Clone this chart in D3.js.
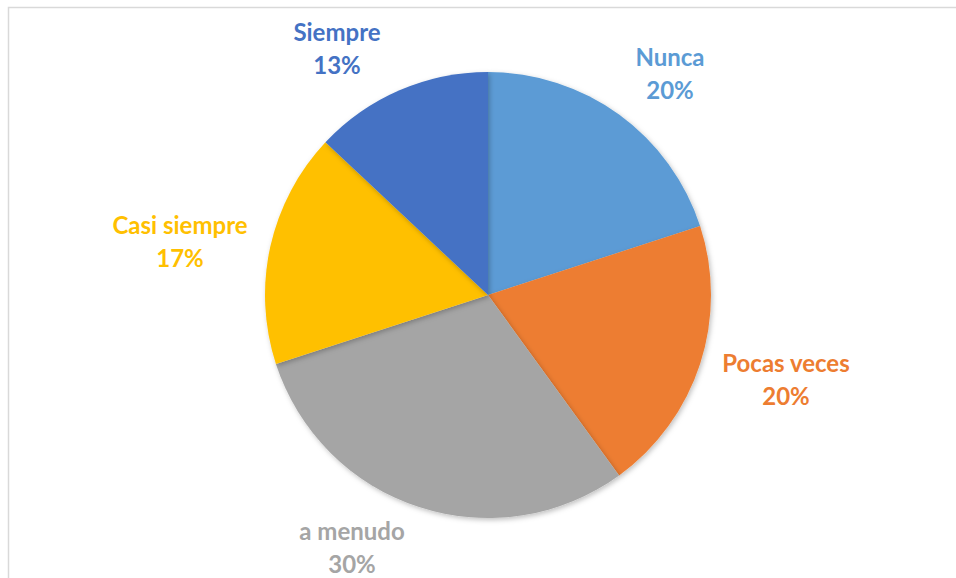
<!DOCTYPE html>
<html>
<head>
<meta charset="utf-8">
<script src="https://cdn.jsdelivr.net/npm/d3@7"></script>
<style>
  body { margin: 0; background: #fff; }
  svg { display: block; }
</style>
</head>
<body>
<div id="chart"></div>
<script>
var categories = ["Nunca", "Pocas veces", "a menudo", "Casi siempre", "Siempre"];
var values = [20, 20, 30, 17, 13];
var colors = ["#5B9BD5", "#ED7D31", "#A5A5A5", "#FFC000", "#4472C4"];
// label centre offsets relative to the pie centre
var labelPos = [[182, -229], [298, 77], [-136, 245], [-308, -61], [-151, -254]];

function init() {
    var w = 956;
    var h = 578;
    var cx = 488, cy = 295, r = 223;

    var svg = d3.select("#chart")
        .append("svg")
        .attr("width", w)
        .attr("height", h);

    // chart frame
    svg.append("rect")
        .attr("x", 8.5)
        .attr("y", 7.5)
        .attr("width", w + 20)
        .attr("height", h + 20)
        .attr("fill", "none")
        .attr("stroke", "#d9d9d9")
        .attr("stroke-width", 1.5);

    var defs = svg.append("defs");
    var f = defs.append("filter").attr("id", "shadow")
        .attr("x", "-10%").attr("y", "-10%").attr("width", "120%").attr("height", "120%");
    f.append("feDropShadow")
        .attr("dx", 1.5).attr("dy", 2)
        .attr("stdDeviation", 2.5)
        .attr("flood-color", "#000")
        .attr("flood-opacity", 0.25);

    var pie = d3.pie().sort(null).value(function(d) { return d; });
    var arc = d3.arc().innerRadius(0).outerRadius(r);

    var g = svg.append("g")
        .attr("transform", "translate(" + cx + "," + cy + ")");

    g.selectAll("path")
        .data(pie(values))
        .enter()
        .append("path")
        .attr("d", arc)
        .attr("fill", function(d, i) { return colors[i]; })
        .attr("filter", "url(#shadow)");

    var labels = g.selectAll("text")
        .data(categories)
        .enter()
        .append("text")
        .attr("text-anchor", "middle")
        .attr("font-family", "Lato, 'Open Sans', sans-serif")
        .attr("font-weight", "bold")
        .attr("font-size", 24)
        .attr("fill", function(d, i) { return colors[i]; })
        .attr("transform", function(d, i) {
            return "translate(" + labelPos[i][0] + "," + labelPos[i][1] + ")";
        });

    labels.append("tspan")
        .attr("x", 0)
        .attr("y", 0)
        .text(function(d) { return d; });
    labels.append("tspan")
        .attr("x", 0)
        .attr("y", 33)
        .text(function(d, i) { return values[i] + "%"; });
}

window.onload = init;
</script>
</body>
</html>
